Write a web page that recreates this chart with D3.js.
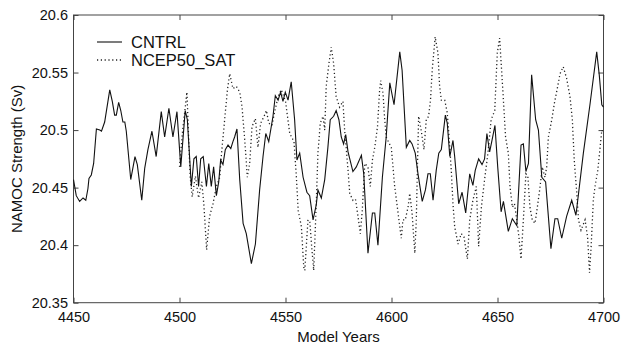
<!DOCTYPE html>
<html><head><meta charset="utf-8">
<script src="https://cdn.jsdelivr.net/npm/d3@7"></script>
<style>body{margin:0;background:#fff}svg{display:block}text{font-family:"Liberation Sans",Arial,Helvetica,sans-serif;fill:#111}</style>
</head><body><svg id="c" width="621" height="346"></svg>
<script>
const cntrlYears=[4450,4451.3,4452.9,4454.5,4455.8,4456.8,4457.3,4458.4,4459.5,4460.8,4462.4,4463.2,4464.7,4467.1,4468.3,4469.4,4470.2,4471.3,4472.3,4473.3,4474.2,4474.9,4477,4479,4480.1,4482.2,4483.6,4485.1,4487,4489,4491.4,4493,4495,4496.9,4498.8,4500.6,4502.7,4503.7,4505.6,4506.8,4507.9,4509,4510,4511.2,4512.7,4513.8,4515,4516.1,4517.4,4518.5,4519.4,4520.5,4521.6,4522.9,4524.2,4525.2,4526,4527.1,4528.4,4530,4531.5,4533.9,4535.8,4537.8,4539.4,4540.7,4542.1,4544.1,4545.2,4546.5,4547.7,4548.8,4549.9,4551.2,4552.7,4554.3,4555.4,4556.7,4558.3,4560.1,4561.4,4563,4564.5,4565.3,4566.9,4568.5,4570,4571.1,4572.7,4573.9,4575.2,4576.3,4577.4,4578.4,4579.5,4581.8,4583.4,4585.8,4586.9,4588.9,4591,4592.1,4593.6,4595.7,4597.5,4599.2,4601.2,4603.9,4605,4607,4608.6,4609.7,4611.2,4612.5,4614.5,4616,4617.2,4618.3,4619.6,4621.1,4622.3,4623.5,4625.4,4626.3,4627.5,4629,4629.8,4631.7,4633.3,4635,4636.9,4638.4,4639.5,4641.1,4642.7,4643.9,4645,4646.3,4647.4,4648.8,4650.1,4651.7,4652.8,4655.1,4657,4659.1,4661.1,4662.2,4663.4,4664.6,4666.1,4668,4669.3,4670.9,4672.7,4675.2,4677.1,4678.4,4680.3,4682.6,4685,4687,4690.5,4693.6,4696.8,4698,4699.2,4700];
const cntrlValues=[20.457,20.443,20.438,20.441,20.439,20.449,20.458,20.461,20.471,20.501,20.500,20.499,20.507,20.535,20.525,20.513,20.513,20.524,20.517,20.507,20.507,20.499,20.457,20.477,20.470,20.439,20.467,20.483,20.499,20.477,20.516,20.494,20.519,20.494,20.516,20.468,20.517,20.509,20.451,20.475,20.477,20.451,20.475,20.477,20.451,20.471,20.451,20.468,20.443,20.455,20.474,20.470,20.483,20.487,20.484,20.490,20.494,20.501,20.457,20.419,20.410,20.384,20.401,20.448,20.477,20.497,20.490,20.512,20.530,20.526,20.533,20.525,20.533,20.526,20.542,20.509,20.474,20.480,20.459,20.446,20.443,20.422,20.435,20.448,20.441,20.457,20.485,20.509,20.512,20.517,20.509,20.494,20.488,20.496,20.481,20.464,20.468,20.478,20.462,20.393,20.428,20.428,20.400,20.459,20.494,20.541,20.522,20.568,20.552,20.485,20.491,20.488,20.480,20.462,20.438,20.448,20.462,20.462,20.439,20.465,20.480,20.483,20.513,20.506,20.477,20.491,20.477,20.436,20.446,20.428,20.462,20.452,20.465,20.475,20.470,20.475,20.497,20.481,20.491,20.504,20.468,20.429,20.438,20.412,20.423,20.417,20.487,20.488,20.464,20.471,20.548,20.509,20.500,20.459,20.455,20.397,20.423,20.423,20.406,20.425,20.439,20.426,20.480,20.522,20.568,20.548,20.522,20.520];
const ncepYears=[4500,4501.5,4503.5,4505,4506,4507.5,4509,4510.5,4511.5,4512.8,4514.2,4515.8,4517.4,4519,4519.7,4521.3,4522.6,4523.7,4525.2,4526.8,4528.4,4529.5,4530.8,4532,4533.1,4534.2,4535.8,4537,4538.3,4539.9,4541,4542.1,4543.6,4544.9,4546.5,4548,4550,4552,4554,4555.1,4556,4557.5,4558.6,4559.1,4560.6,4561.5,4562.3,4563.3,4564.5,4565.3,4566.4,4567.7,4568.5,4569.2,4570.5,4571.6,4572.7,4573.9,4575.5,4577.1,4577.9,4578.7,4579.5,4580.3,4581.8,4583,4584.2,4585.3,4586.2,4587.4,4588.9,4590,4591,4592.1,4593.4,4594.4,4594.9,4596,4596.8,4597.5,4598.5,4599.9,4601.5,4603.1,4604.6,4605.4,4606.5,4607.8,4608.6,4609.7,4611,4611.7,4612.2,4612.8,4614,4615.3,4616.4,4617.5,4618.4,4619.2,4620.6,4621.9,4622.7,4623.5,4625.1,4626.3,4627.5,4628.2,4629,4629.8,4631.4,4632.9,4634.2,4635.8,4636.9,4638.4,4640,4641.1,4642.4,4643.9,4645.5,4647,4648.7,4649.9,4651,4652.6,4653.8,4655.1,4655.9,4657,4658,4659.1,4660.1,4661.1,4662.2,4663.4,4664.3,4665.3,4666.4,4667.7,4668.8,4670.1,4671.1,4672.4,4673.2,4674,4675.6,4676.8,4678.4,4679.5,4681,4682.6,4684.2,4685.3,4686.2,4687.4,4688.2,4689.4,4691.3,4692.5,4693.4,4694.2,4695.2,4696,4697.3,4698.4,4699.2,4700];
const ncepValues=[20.468,20.50,20.533,20.46,20.442,20.46,20.441,20.455,20.435,20.396,20.425,20.436,20.451,20.459,20.477,20.509,20.535,20.549,20.536,20.538,20.533,20.520,20.491,20.459,20.471,20.503,20.510,20.485,20.506,20.512,20.517,20.506,20.504,20.516,20.529,20.535,20.525,20.497,20.49,20.46,20.43,20.416,20.381,20.378,20.422,20.42,20.40,20.378,20.436,20.480,20.506,20.512,20.500,20.538,20.558,20.572,20.558,20.529,20.520,20.525,20.500,20.483,20.465,20.445,20.439,20.44,20.425,20.410,20.430,20.471,20.468,20.451,20.474,20.485,20.503,20.535,20.543,20.532,20.509,20.494,20.49,20.485,20.451,20.428,20.406,20.422,20.422,20.433,20.445,20.428,20.393,20.422,20.465,20.512,20.500,20.483,20.509,20.512,20.526,20.552,20.581,20.567,20.538,20.526,20.526,20.515,20.485,20.465,20.436,20.416,20.401,20.410,20.407,20.388,20.422,20.439,20.451,20.399,20.433,20.457,20.480,20.509,20.517,20.567,20.580,20.532,20.494,20.480,20.451,20.433,20.436,20.422,20.407,20.388,20.422,20.462,20.46,20.433,20.422,20.419,20.433,20.451,20.468,20.459,20.468,20.494,20.509,20.523,20.538,20.549,20.555,20.545,20.529,20.509,20.474,20.445,20.422,20.413,20.422,20.407,20.376,20.40,20.439,20.451,20.465,20.485,20.500,20.497];
const xTicks=[4450,4500,4550,4600,4650,4700];
const yTicks=[20.35,20.4,20.45,20.5,20.55,20.6];
const seriesNames=["CNTRL","NCEP50_SAT"];

const svg=d3.select("#c");
const L=73.5,R=603.5,T=15,B=302.7;
const x=d3.scaleLinear().domain([4450,4700]).range([L,R]);
const y=d3.scaleLinear().domain([20.35,20.6]).range([B,T]);
const axCol="#444";

svg.append("rect").attr("x",L).attr("y",T).attr("width",R-L).attr("height",B-T).attr("fill","none").attr("stroke",axCol).attr("stroke-width",1);

const fmtY=d=>String(+d.toFixed(2));
svg.append("g").attr("transform",`translate(0,${B})`)
 .call(d3.axisBottom(x).tickValues(xTicks).tickSize(-5).tickPadding(9).tickFormat(d3.format("d")))
 .call(g=>{g.select(".domain").remove();g.selectAll("line").attr("stroke",axCol);g.selectAll("text").attr("font-size",14.5).attr("fill","#111").attr("font-family","Liberation Sans, Arial, sans-serif");});
svg.append("g").attr("transform",`translate(0,${T})`)
 .call(d3.axisTop(x).tickValues(xTicks).tickSize(-5).tickFormat(""))
 .call(g=>{g.select(".domain").remove();g.selectAll("line").attr("stroke",axCol);});
svg.append("g").attr("transform",`translate(${L},0)`)
 .call(d3.axisLeft(y).tickValues(yTicks).tickSize(-5).tickPadding(5.5).tickFormat(fmtY))
 .call(g=>{g.select(".domain").remove();g.selectAll("line").attr("stroke",axCol);g.selectAll("text").attr("font-size",14.5).attr("fill","#111").attr("font-family","Liberation Sans, Arial, sans-serif");});
svg.append("g").attr("transform",`translate(${R},0)`)
 .call(d3.axisRight(y).tickValues(yTicks).tickSize(-5).tickFormat(""))
 .call(g=>{g.select(".domain").remove();g.selectAll("line").attr("stroke",axCol);});

const line=d3.line().x(d=>x(d[0])).y(d=>y(d[1]));
const cntrl=d3.zip(cntrlYears,cntrlValues);
const ncep=d3.zip(ncepYears,ncepValues);

svg.append("path").datum(ncep).attr("d",line).attr("fill","none").attr("stroke","#222").attr("stroke-width",1.3).attr("stroke-dasharray","1.2,2.6");
svg.append("path").datum(cntrl).attr("d",line).attr("fill","none").attr("stroke","#111").attr("stroke-width",1.1);

const lg=svg.append("g");
lg.append("line").attr("x1",97).attr("x2",122).attr("y1",42).attr("y2",42).attr("stroke","#111").attr("stroke-width",1.1);
lg.append("line").attr("x1",97).attr("x2",122).attr("y1",60).attr("y2",60).attr("stroke","#222").attr("stroke-width",1.3).attr("stroke-dasharray","1.2,2.6");
lg.append("text").attr("x",131).attr("y",42).attr("dy","0.36em").attr("font-size",16.5).text(seriesNames[0]);
lg.append("text").attr("x",131).attr("y",60).attr("dy","0.36em").attr("font-size",16.5).text(seriesNames[1]);

svg.append("text").attr("x",(L+R)/2).attr("y",342).attr("text-anchor","middle").attr("font-size",15).text("Model Years");
svg.append("text").attr("transform",`translate(22,${(T+B)/2}) rotate(-90)`).attr("text-anchor","middle").attr("font-size",15).text("NAMOC Strength (Sv)");
</script></body></html>
